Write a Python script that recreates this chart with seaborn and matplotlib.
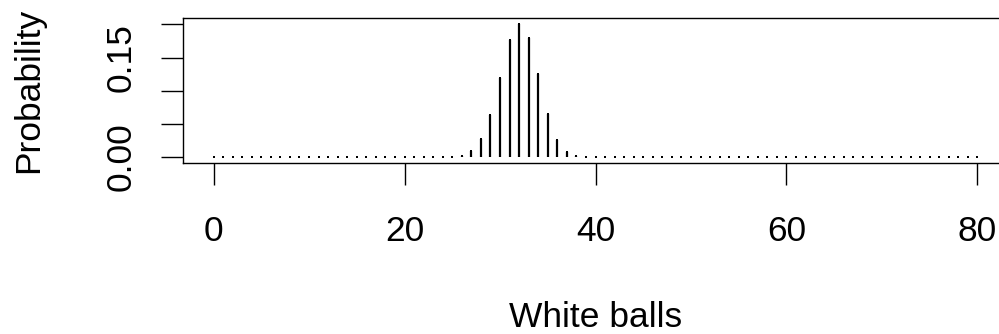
"""Hypergeometric-style probability of white balls drawn, drawn as spikes."""

import matplotlib

matplotlib.use("Agg")
import matplotlib.pyplot as plt
import pandas as pd
import seaborn as sns

white_balls = list(range(0, 81))
probability = (
    [0.0] * 25
    + [0.0005, 0.002, 0.009, 0.027, 0.064, 0.120, 0.176, 0.201,
       0.180, 0.125, 0.065, 0.026, 0.007, 0.001]
    + [0.0] * 42
)
x_ticks = [0, 20, 40, 60, 80]
y_ticks = [0.00, 0.05, 0.10, 0.15, 0.20]
y_tick_labels = ["0.00", "", "", "0.15", ""]

sns.set_theme(style="white")
plt.rcParams["font.family"] = ["Liberation Sans", "DejaVu Sans"]

data = pd.DataFrame({"white": white_balls, "prob": probability})

fig = plt.figure(figsize=(9.99, 3.34), dpi=100)
ax = fig.add_axes([183 / 999, 1 - 163 / 334, 825 / 999, 145 / 334])

ax.vlines(data["white"], 0, data["prob"], color="black", linewidth=1.6)
sns.scatterplot(data=data, x="white", y="prob", marker="s", s=2.2,
                color="black", linewidth=0, ax=ax, zorder=3)

ax.set_xlim(-3.2, 83.2)
ax.set_ylim(-0.0089, 0.2098)
ax.set_xticks(x_ticks)
ax.set_xticklabels([str(v) for v in x_ticks])
ax.set_yticks(y_ticks)
ax.set_yticklabels(y_tick_labels, rotation=90, va="center")

for spine in ax.spines.values():
    spine.set_visible(True)
    spine.set_color("black")
    spine.set_linewidth(1.0)

ax.tick_params(axis="both", which="both", direction="out", length=16,
               width=1.0, color="black", labelsize=25.5, labelcolor="black",
               bottom=True, left=True)
ax.tick_params(axis="x", pad=21.5)
ax.tick_params(axis="y", pad=16.5)

ax.set_xlabel("White balls", fontsize=25.5, color="black")
ax.set_ylabel("Probability", fontsize=25.5, color="black")
ax.xaxis.set_label_coords(0.5, -1.131)
ax.xaxis.label.set_va("baseline")
ax.yaxis.set_label_coords(-0.1867, 0.5)
ax.yaxis.label.set_va("center")

fig.savefig("out.png", dpi=100)
plt.close(fig)
